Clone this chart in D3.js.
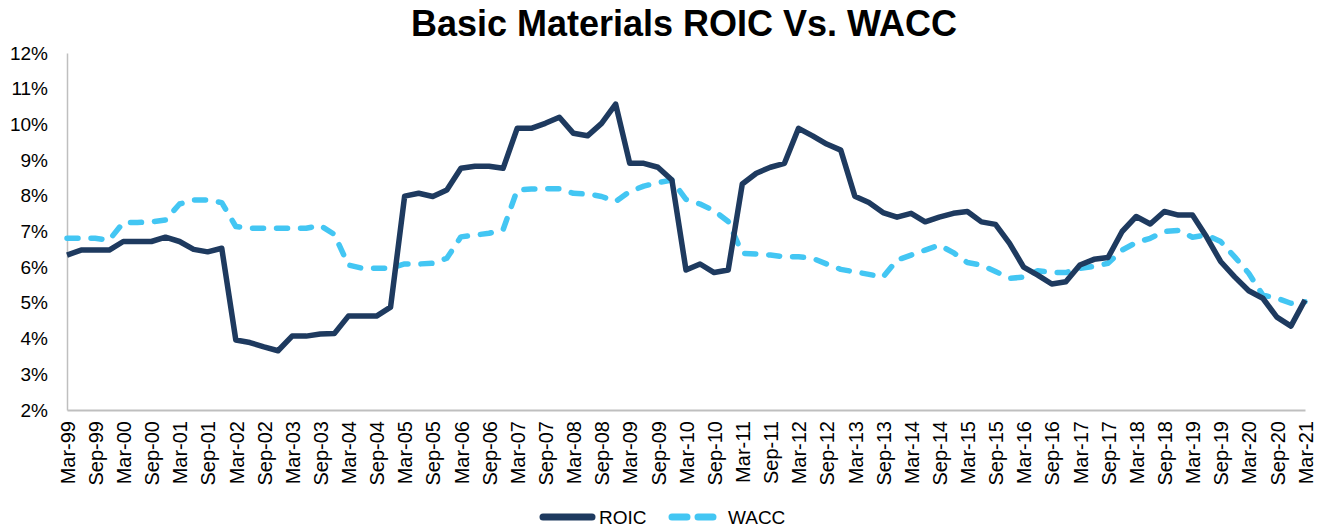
<!DOCTYPE html>
<html>
<head>
<meta charset="utf-8">
<script src="https://cdn.jsdelivr.net/npm/d3@7"></script>
<style>
  html, body { margin: 0; padding: 0; background: #fff; }
  svg { display: block; font-family: Arial, "Liberation Sans", sans-serif; }
</style>
</head>
<body>
<svg id="chart" width="1320" height="529"></svg>
<script>
const quarters = [
  "Mar-99","Jun-99","Sep-99","Dec-99","Mar-00","Jun-00","Sep-00","Dec-00",
  "Mar-01","Jun-01","Sep-01","Dec-01","Mar-02","Jun-02","Sep-02","Dec-02",
  "Mar-03","Jun-03","Sep-03","Dec-03","Mar-04","Jun-04","Sep-04","Dec-04",
  "Mar-05","Jun-05","Sep-05","Dec-05","Mar-06","Jun-06","Sep-06","Dec-06",
  "Mar-07","Jun-07","Sep-07","Dec-07","Mar-08","Jun-08","Sep-08","Dec-08",
  "Mar-09","Jun-09","Sep-09","Dec-09","Mar-10","Jun-10","Sep-10","Dec-10",
  "Mar-11","Jun-11","Sep-11","Dec-11","Mar-12","Jun-12","Sep-12","Dec-12",
  "Mar-13","Jun-13","Sep-13","Dec-13","Mar-14","Jun-14","Sep-14","Dec-14",
  "Mar-15","Jun-15","Sep-15","Dec-15","Mar-16","Jun-16","Sep-16","Dec-16",
  "Mar-17","Jun-17","Sep-17","Dec-17","Mar-18","Jun-18","Sep-18","Dec-18",
  "Mar-19","Jun-19","Sep-19","Dec-19","Mar-20","Jun-20","Sep-20","Dec-20",
  "Mar-21"
];

const tickLabels = [
  "Mar-99","Sep-99","Mar-00","Sep-00","Mar-01","Sep-01","Mar-02","Sep-02",
  "Mar-03","Sep-03","Mar-04","Sep-04","Mar-05","Sep-05","Mar-06","Sep-06",
  "Mar-07","Sep-07","Mar-08","Sep-08","Mar-09","Sep-09","Mar-10","Sep-10",
  "Mar-11","Sep-11","Mar-12","Sep-12","Mar-13","Sep-13","Mar-14","Sep-14",
  "Mar-15","Sep-15","Mar-16","Sep-16","Mar-17","Sep-17","Mar-18","Sep-18",
  "Mar-19","Sep-19","Mar-20","Sep-20","Mar-21"
];

const roic = [
  6.34,6.48,6.48,6.48,6.72,6.72,6.72,6.84,6.72,6.50,
  6.43,6.53,3.96,3.89,3.77,3.66,4.07,4.07,4.13,4.14,
  4.63,4.63,4.63,4.88,7.99,8.07,7.98,8.16,8.77,8.83,
  8.83,8.77,9.89,9.89,10.03,10.20,9.75,9.68,10.03,10.57,
  8.91,8.91,8.80,8.44,5.92,6.09,5.85,5.92,8.33,8.63,
  8.80,8.91,9.89,9.68,9.45,9.28,7.99,7.81,7.53,7.40,
  7.51,7.27,7.40,7.51,7.56,7.27,7.20,6.67,6.00,5.78,
  5.53,5.59,6.06,6.22,6.27,7.00,7.42,7.21,7.56,7.46,
  7.46,6.85,6.16,5.73,5.34,5.13,4.60,4.35,5.08
];

const wacc = [
  6.81,6.81,6.81,6.76,7.25,7.25,7.27,7.32,7.77,7.88,
  7.88,7.81,7.14,7.09,7.09,7.09,7.09,7.09,7.17,6.92,
  6.06,5.97,5.97,5.97,6.09,6.09,6.11,6.25,6.85,6.90,
  6.95,7.05,8.16,8.19,8.20,8.20,8.07,8.05,7.98,7.84,
  8.12,8.27,8.37,8.44,7.90,7.77,7.58,7.28,6.39,6.37,
  6.34,6.29,6.29,6.25,6.09,5.94,5.87,5.80,5.72,6.20,
  6.34,6.48,6.62,6.41,6.13,6.06,5.88,5.69,5.72,5.90,
  5.85,5.85,5.97,6.02,6.11,6.48,6.69,6.81,7.00,7.03,
  6.84,6.90,6.72,6.29,5.83,5.22,5.13,4.99,5.03
];

const yTicks = [2,3,4,5,6,7,8,9,10,11,12];

const colors = { roic: "#1e3a5f", wacc: "#43c6f3", axis: "#bfbfbf" };

const svg = d3.select("#chart");
const plotLeft = 67, plotRight = 1305, plotTop = 53, plotBottom = 410;

const x = d3.scalePoint().domain(quarters).range([plotLeft, plotRight]);
const y = d3.scaleLinear().domain([2, 12]).range([plotBottom, plotTop]);

// Title
svg.append("text")
  .attr("x", 684).attr("y", 36)
  .attr("text-anchor", "middle")
  .style("font-size", "36px").style("font-weight", "bold")
  .attr("fill", "#000")
  .text("Basic Materials ROIC Vs. WACC");

// Y axis
const yAxis = d3.axisLeft(y).tickValues(yTicks).tickSize(0).tickPadding(19)
  .tickFormat(d => d + "%");
const gy = svg.append("g").attr("transform", `translate(${plotLeft},0)`).call(yAxis);
gy.select(".domain").attr("stroke", colors.axis).attr("stroke-width", 1.5);
gy.selectAll("text").style("font-size", "19px").attr("fill", "#000")
  .style("font-family", "Arial, 'Liberation Sans', sans-serif");

// X axis
const xAxis = d3.axisBottom(x).tickValues(tickLabels).tickSize(0).tickPadding(0);
const gx = svg.append("g").attr("transform", `translate(0,${plotBottom})`).call(xAxis);
gx.select(".domain").attr("stroke", colors.axis).attr("stroke-width", 2);
gx.selectAll("text")
  .style("font-size", "20px").attr("fill", "#000")
  .style("font-family", "Arial, 'Liberation Sans', sans-serif")
  .attr("text-anchor", "end")
  .attr("x", 0).attr("y", 0)
  .attr("dx", "-11px").attr("dy", "0.36em")
  .attr("transform", "rotate(-90)");

// Lines
const line = d3.line().x((d, i) => x(quarters[i])).y(d => y(d));

svg.append("path").datum(wacc)
  .attr("d", line).attr("fill", "none")
  .attr("stroke", colors.wacc).attr("stroke-width", 5.5)
  .attr("stroke-linecap", "round").attr("stroke-linejoin", "round")
  .attr("stroke-dasharray", "11,13");

svg.append("path").datum(roic)
  .attr("d", line).attr("fill", "none")
  .attr("stroke", colors.roic).attr("stroke-width", 5.5)
  .attr("stroke-linejoin", "round");

// Legend
const lg = svg.append("g");
lg.append("line").attr("x1", 543).attr("x2", 592).attr("y1", 517).attr("y2", 517)
  .attr("stroke", colors.roic).attr("stroke-width", 7).attr("stroke-linecap", "round");
lg.append("text").attr("x", 599).attr("y", 524).style("font-size", "19px").text("ROIC");
lg.append("line").attr("x1", 672).attr("x2", 718).attr("y1", 517).attr("y2", 517)
  .attr("stroke", colors.wacc).attr("stroke-width", 7).attr("stroke-linecap", "round")
  .attr("stroke-dasharray", "15,11");
lg.append("text").attr("x", 728).attr("y", 524).style("font-size", "19px").text("WACC");
</script>
</body>
</html>
